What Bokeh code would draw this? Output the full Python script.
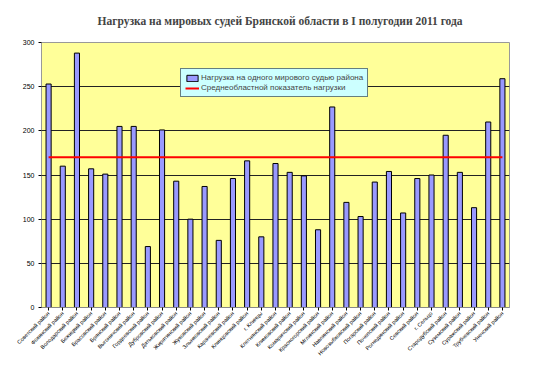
import math
from bokeh.plotting import figure
from bokeh.models import Range1d, Legend, LegendItem, FixedTicker, Title
from bokeh.embed import file_html
from bokeh.resources import INLINE

districts = [
    "Советский район", "Фокинский район", "Володарский район", "Бежицкий район",
    "Брасовский район", "Брянский район", "Выгоничский район", "Гордеевский район",
    "Дубровский район", "Дятьковский район", "Жирятинский район", "Жуковский район",
    "Злынковский район", "Карачевский район", "Клинцовский район", "г. Клинцы",
    "Клетнянский район", "Климовский район", "Комаричский район", "Красногорский район",
    "Мглинский район", "Навлинский район", "Новозыбковский район", "Погарский район",
    "Почепский район", "Рогнединский район", "Севский район", "г. Сельцо",
    "Стародубский район", "Суземский район", "Суражский район", "Трубчевский район",
    "Унечский район",
]
load = [253, 160, 288, 157, 151, 205, 205, 69, 201, 143, 100, 137, 76, 146, 166, 80,
        163, 153, 149, 88, 227, 119, 103, 142, 154, 107, 146, 150, 195, 153, 113, 210, 259]
average = 170
y_ticks = [0, 50, 100, 150, 200, 250, 300]

p = figure(x_range=districts, y_range=Range1d(0, 300), width=528, height=362,
           output_backend="svg", toolbar_location=None,
           min_border_left=41, min_border_right=19, min_border_top=42, min_border_bottom=55)
p.border_fill_color = "white"
p.outline_line_color = "#999999"
p.background_fill_color = "#FFFF99"

t = Title(text="Нагрузка на мировых судей Брянской области в I полугодии 2011 года",
          text_font="Liberation Serif", text_font_size="11.5px", text_font_style="bold",
          align="left", offset=56, standoff=28, vertical_align="top")
p.add_layout(t, "above")

bars = p.vbar(x=districts, top=load, width=0.36, fill_color="#9999FF", line_color="black",
              line_width=1)
line = p.line(x=[districts[0], districts[-1]], y=[average, average], line_color="#FF0000",
              line_width=2)

p.xgrid.grid_line_color = None
p.ygrid.grid_line_color = "#222222"
p.ygrid.grid_line_width = 1
p.yaxis.ticker = FixedTicker(ticks=y_ticks)
p.yaxis.minor_tick_line_color = None
p.yaxis.axis_line_color = None
p.yaxis.major_tick_in = 0
p.yaxis.major_tick_out = 3
p.yaxis.major_label_standoff = 4
p.yaxis.major_label_text_font = "Liberation Sans"
p.yaxis.major_label_text_font_size = "7px"
p.yaxis.major_label_text_color = "black"
p.xaxis.axis_line_color = "#888888"
p.xaxis.major_tick_out = 3
p.xaxis.major_tick_in = 0
p.xaxis.major_label_standoff = 2
p.xaxis.major_label_orientation = math.pi / 4
p.xaxis.major_label_text_font = "Liberation Sans"
p.xaxis.major_label_text_font_size = "5.5px"
p.xaxis.major_label_text_color = "black"

legend = Legend(items=[
    LegendItem(label="Нагрузка на одного мирового судью района", renderers=[bars]),
    LegendItem(label="Среднеобластной показатель нагрузки", renderers=[line]),
], location=(139, 210))
legend.background_fill_color = "#CCFFFF"
legend.background_fill_alpha = 1
legend.border_line_color = "black"
legend.label_text_font = "Liberation Sans"
legend.label_text_font_size = "8px"
legend.label_height = 9
legend.glyph_height = 8
legend.glyph_width = 14
legend.spacing = 1
legend.padding = 4
legend.margin = 0
legend.label_standoff = 2
p.add_layout(legend, "center")

open("out.html", "w").write(file_html(p, INLINE))
